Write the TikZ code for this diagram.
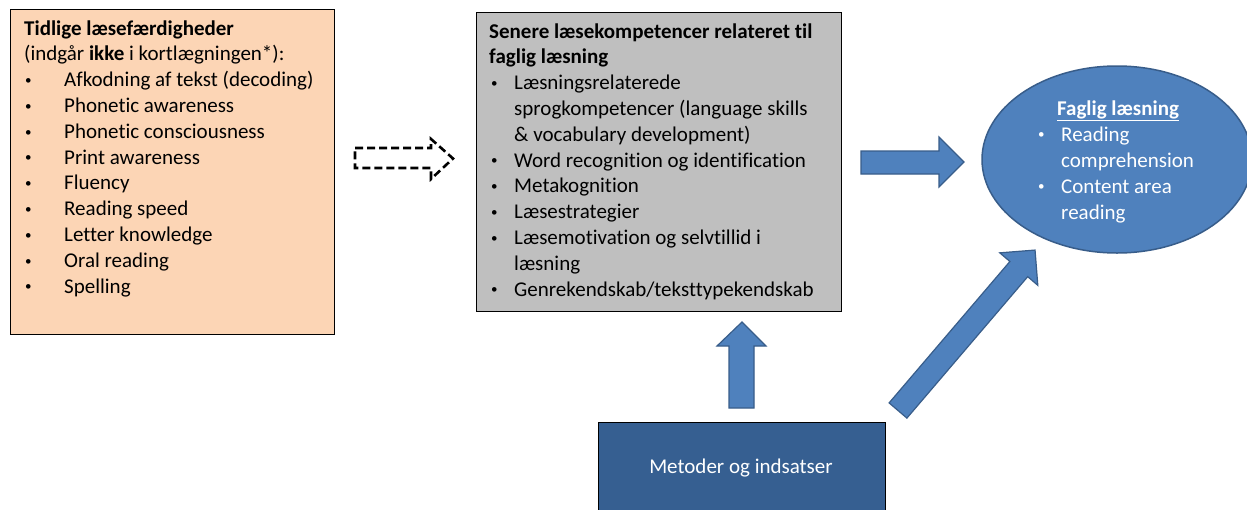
\documentclass[tikz,border=0pt]{standalone}
\usepackage{fontspec}
\setmainfont{Carlito}[Ligatures={NoCommon}]
\usetikzlibrary{shapes.geometric}
\definecolor{peach}{HTML}{FCD5B5}
\definecolor{greybox}{HTML}{BFBFBF}
\definecolor{accblue}{HTML}{4F81BD}
\definecolor{accline}{HTML}{385D8A}
\definecolor{darkblue}{HTML}{365F91}
\newcommand{\smallbul}{\raisebox{2.2pt}{\scalebox{0.62}{\textbullet}}}
\begin{document}
\begin{tikzpicture}[x=1pt,y=-1pt,
  txt/.style={anchor=base west, inner sep=0pt, font=\fontsize{21}{25.8}\selectfont},
  wtxt/.style={txt, text=white},
  boxframe/.style={draw=black, line width=1.2pt, anchor=north west, inner sep=0pt},
  blockarrow/.style={fill=accblue, draw=accline, line width=1.2pt, line join=miter},
  dasharrow/.style={draw=black, line width=2.6pt, dash pattern=on 8pt off 4pt}]
\clip (0,0) rectangle (1247,509);
\fill[white] (0,0) rectangle (1247,509);

% boxes
\node[boxframe, fill=peach, minimum width=324pt, minimum height=325pt] (early) at (10,9) {};
\node[boxframe, fill=greybox, minimum width=365pt, minimum height=299pt] (later) at (476,12) {};
\node[ellipse, fill=accblue, draw=accline, line width=1.5pt, minimum width=270pt, minimum height=187pt, inner sep=0pt] (faglig) at (1117,159.5) {};
\node[boxframe, fill=darkblue, minimum width=287pt, minimum height=100pt] (metoder) at (598,422) {};

% left box text
\node[txt] (e0) at (24,35) {\textbf{Tidlige læsefærdigheder}};
\node[txt] (e1) at (24,60.8) {(indgår \textbf{ikke} i kortlægningen*):};
\foreach \t [count=\i] in {Afkodning af tekst (decoding), Phonetic awareness, Phonetic consciousness, Print awareness, Fluency, Reading speed, Letter knowledge, Oral reading, Spelling}{
  \node[txt] (eb\i) at (25,{60.8+25.8*\i}) {\smallbul};
  \node[txt] (ei\i) at (64,{60.8+25.8*\i}) {\t};
}

% middle box text
\node[txt] (m0) at (489,38) {\textbf{Senere læsekompetencer relateret til}};
\node[txt] (m1) at (489,63.8) {\textbf{faglig læsning}};
\foreach \y/\b/\t [count=\i] in {
  2/1/{Læsningsrelaterede},
  3/0/{sprogkompetencer (language skills},
  4/0/{\& vocabulary development)},
  5/1/{Word recognition og identification},
  6/1/{Metakognition},
  7/1/{Læsestrategier},
  8/1/{Læsemotivation og selvtillid i},
  9/0/{læsning},
  10/1/{Genrekendskab/teksttypekendskab}}{
  \ifnum\b=1 \node[txt] (mb\i) at (491,{38+25.8*\y}) {\smallbul};\fi
  \node[txt] (mi\i) at (514,{38+25.8*\y}) {\t};
}

% ellipse text
\node[wtxt, anchor=base] (f0) at (1118,115) {\textbf{\underline{Faglig læsning}}};
\node[wtxt] (fb1) at (1038,141) {\smallbul};
\node[wtxt] (fi1) at (1061,141) {Reading};
\node[wtxt] (fi2) at (1061,167) {comprehension};
\node[wtxt] (fb3) at (1038,193) {\smallbul};
\node[wtxt] (fi3) at (1061,193) {Content area};
\node[wtxt] (fi4) at (1061,219) {reading};

% bottom text
\node[wtxt, anchor=base] (mt) at (741,473) {Metoder og indsatser};

% dashed block arrow
\draw[dasharrow] (355,148) -- (431,148) -- (431,139) -- (453,158.5) -- (431,179) -- (431,168) -- (355,168) -- cycle;

% right block arrow
\draw[blockarrow] (861,151) -- (939,151) -- (939,137) -- (964,162) -- (939,187) -- (939,174) -- (861,174) -- cycle;

% up block arrow
\draw[blockarrow] (729,408) -- (729,346) -- (717,346) -- (742,322) -- (766,346) -- (754,346) -- (754,408) -- cycle;

% diagonal block arrow
\begin{scope}[shift={(898,410.5)}, rotate=49.5]
\draw[blockarrow] (0,-11.7) -- (186,-11.7) -- (186,-25) -- (211,0) -- (186,25) -- (186,11.7) -- (0,11.7) -- cycle;
\end{scope}
\end{tikzpicture}
\end{document}
